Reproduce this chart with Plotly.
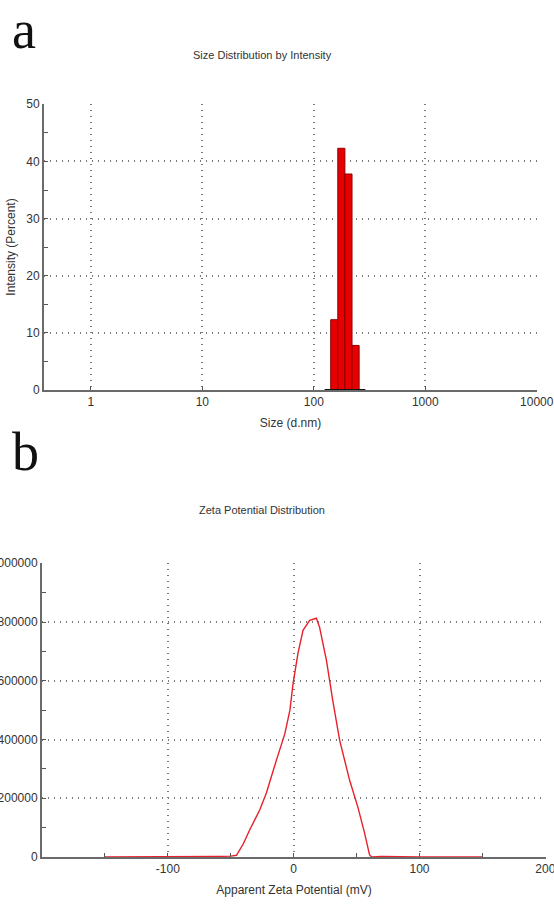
import plotly.graph_objects as go

# ---- Panel a data: size distribution by intensity ----
size_bin_edges = [141.8, 164.2, 190.1, 220.2, 255.0]
intensity_pct = [12.3, 42.3, 37.8, 7.8]
size_zero_span = [125.0, 290.0]
size_ticks = [1, 10, 100, 1000, 10000]
size_tick_labels = ["1", "10", "100", "1000", "10000"]
intensity_ticks = [0, 10, 20, 30, 40, 50]

# ---- Panel b data: zeta potential distribution ----
zeta_mv = [-150, -100, -60, -50, -45.5, -40, -35, -27, -21.7, -13.7, -7, -3, -0.5, 3.4,
           7.4, 12.7, 18, 20.6, 26, 31, 36.5, 44.4, 51, 56.3, 60.3, 62, 70, 100, 150]
zeta_counts = [0, 0, 2000, 3000, 6000, 45000, 92000, 160000, 218000, 330000, 420000, 500000,
               590000, 693000, 772000, 806000, 813000, 782000, 670000, 534000, 398000, 262000,
               170000, 82000, 7000, 0, 2000, 0, 0]
zeta_ticks = [-100, 0, 100, 200]
zeta_tick_labels = ["-100", "0", "100", "200"]
count_ticks = [0, 200000, 400000, 600000, 800000, 1000000]
count_tick_labels = ["0", "200000", "400000", "600000", "800000", "1000000"]

W, H = 554, 920
NARROW = "Liberation Sans Narrow, Arial Narrow, Liberation Sans, Arial, sans-serif"
SERIF = "Liberation Serif, Times New Roman, serif"
fig = go.Figure()

# bars as filled polygons on the log axis
for i, v in enumerate(intensity_pct):
    l, r = size_bin_edges[i], size_bin_edges[i + 1]
    fig.add_trace(go.Scatter(x=[l, l, r, r, l], y=[0, v, v, 0, 0], mode="lines",
                             fill="toself", fillcolor="#e80000",
                             line=dict(color="#8a0000", width=1),
                             xaxis="x", yaxis="y", showlegend=False, hoverinfo="skip"))
fig.add_trace(go.Scatter(x=size_zero_span, y=[0, 0], mode="lines",
                         line=dict(color="#111", width=2), xaxis="x", yaxis="y",
                         showlegend=False))

fig.add_trace(go.Scatter(x=zeta_mv, y=zeta_counts, mode="lines",
                         line=dict(color="#e8202a", width=1.4),
                         xaxis="x2", yaxis="y2", showlegend=False))

def px_x(p):
    return p / W

def px_y(p):
    return 1 - p / H

axis_common = dict(showline=True, linecolor="#6a6a6a", linewidth=2, mirror=False,
                   showgrid=True, gridcolor="#7a7a7a", griddash="1px,5px", gridwidth=1.5,
                   zeroline=False, ticks="inside", ticklen=4, tickcolor="#555",
                   tickfont=dict(family=NARROW, size=12, color="#333"),
                   automargin=False)

fig.update_layout(
    width=W, height=H, margin=dict(l=0, r=0, t=0, b=0),
    paper_bgcolor="white", plot_bgcolor="white",
    xaxis=dict(axis_common, type="log", range=[-0.42, 4.002],
               domain=[px_x(44), px_x(537)], anchor="y", ticklabeloverflow="allow",
               tickvals=size_ticks, ticktext=size_tick_labels,
               title=dict(text="Size (d.nm)", font=dict(family=NARROW, size=12, color="#333"),
                          standoff=10)),
    yaxis=dict(axis_common, range=[0, 50.05], domain=[px_y(390), px_y(104)], anchor="x",
               tickvals=intensity_ticks,
               minor=dict(dtick=5, ticks="inside", ticklen=4, tickcolor="#555", showgrid=False),
               title=dict(text="Intensity (Percent)", font=dict(family=NARROW, size=12, color="#333"),
                          standoff=8)),
    xaxis2=dict(axis_common, range=[-200, 200.5], domain=[px_x(42), px_x(546)], anchor="y2",
                tickvals=zeta_ticks, ticktext=zeta_tick_labels, ticklabeloverflow="allow",
                minor=dict(tickvals=[-150, -50, 50, 150], ticks="inside", ticklen=4,
                           tickcolor="#555", showgrid=False),
                title=dict(text="Apparent Zeta Potential (mV)",
                           font=dict(family=NARROW, size=12, color="#333"), standoff=10)),
    yaxis2=dict(axis_common, range=[0, 1001000], domain=[px_y(857), px_y(563)], anchor="x2",
                tickvals=count_ticks, ticktext=count_tick_labels, ticklabeloverflow="allow",
                minor=dict(dtick=100000, ticks="inside", ticklen=4, tickcolor="#555",
                           showgrid=False)),
)

fig.add_annotation(text="Size Distribution by Intensity", x=px_x(262), y=px_y(55),
                   xref="paper", yref="paper", showarrow=False, yanchor="middle",
                   font=dict(family=NARROW, size=11, color="#333"))
fig.add_annotation(text="Zeta Potential Distribution", x=px_x(262), y=px_y(510),
                   xref="paper", yref="paper", showarrow=False, yanchor="middle",
                   font=dict(family=NARROW, size=11, color="#333"))
fig.add_annotation(text="a", x=px_x(10), y=px_y(-2), xref="paper", yref="paper",
                   xanchor="left", yanchor="top", showarrow=False,
                   font=dict(family=SERIF, size=54, color="#111"))
fig.add_annotation(text="b", x=px_x(10), y=px_y(420), xref="paper", yref="paper",
                   xanchor="left", yanchor="top", showarrow=False,
                   font=dict(family=SERIF, size=54, color="#111"))

fig.write_html("out.html")
